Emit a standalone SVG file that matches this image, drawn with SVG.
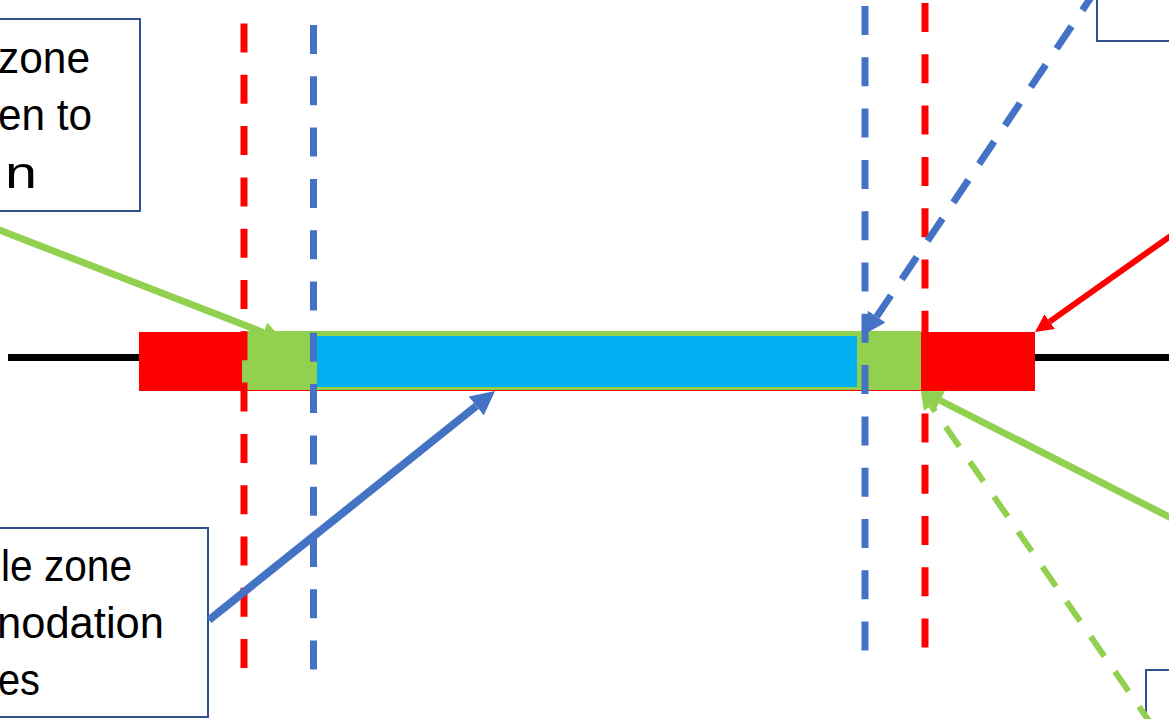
<svg xmlns="http://www.w3.org/2000/svg" width="1169" height="719" viewBox="0 0 1169 719">
<style>
.box{fill:#ffffff;stroke:#2F528F;stroke-width:2}
.lbl{font-family:"Liberation Sans",Arial,sans-serif;font-size:45px;fill:#000000}
.vd{fill:none;stroke-width:7;stroke-dasharray:29 22.3}
.red{stroke:#FF0000}
.blu{stroke:#4472C4}
.grn{stroke:#92D050}
.conn{fill:none}
</style>
<defs>
<marker id="ahG" viewBox="0 0 10 10" refX="0" refY="5" markerUnits="strokeWidth" markerWidth="3" markerHeight="3" orient="auto-start-reverse"><path d="M0,0 L10,5 L0,10 z" fill="#92D050"/></marker>
<marker id="ahB" viewBox="0 0 10 10" refX="0" refY="5" markerUnits="strokeWidth" markerWidth="3" markerHeight="3" orient="auto-start-reverse"><path d="M0,0 L10,5 L0,10 z" fill="#4472C4"/></marker>
<marker id="ahR" viewBox="0 0 10 10" refX="0" refY="5" markerUnits="strokeWidth" markerWidth="3" markerHeight="3" orient="auto-start-reverse"><path d="M0,0 L10,5 L0,10 z" fill="#FF0000"/></marker>
</defs>
<rect x="0" y="0" width="1169" height="719" fill="#ffffff"/>
<g id="baseline">
<line x1="8" y1="357.5" x2="1169" y2="357.5" stroke="#000000" stroke-width="7"/>
</g>
<g id="bar">
<rect x="139" y="332" width="896" height="59" fill="#FF0000"/>
<rect x="242" y="331" width="679" height="59" fill="#92D050"/>
<rect x="317" y="336" width="540" height="51" fill="#00B0F0"/>
</g>
<g id="guides">
<line class="vd red" x1="244" y1="23.5" x2="244" y2="668"/>
<line class="vd blu" x1="313.5" y1="25" x2="313.5" y2="670"/>
<line class="vd blu" x1="865" y1="6" x2="865" y2="651"/>
<line class="vd red" x1="925" y1="3" x2="925" y2="648"/>
</g>
<g id="box-top-left">
<rect class="box" x="-10" y="19" width="150" height="192"/>
<text class="lbl" x="-2" y="73" textLength="92" lengthAdjust="spacingAndGlyphs">zone</text>
<text class="lbl" x="-2" y="130" textLength="94" lengthAdjust="spacingAndGlyphs">en to</text>
<text class="lbl" x="5" y="188" textLength="32" lengthAdjust="spacingAndGlyphs">n</text>
</g>
<g id="box-bottom-left">
<rect class="box" x="-10" y="528" width="218" height="189"/>
<text class="lbl" x="1" y="581" textLength="131" lengthAdjust="spacingAndGlyphs">le zone</text>
<text class="lbl" x="-3" y="638" textLength="167" lengthAdjust="spacingAndGlyphs">nodation</text>
<text class="lbl" x="-2" y="695" textLength="42" lengthAdjust="spacingAndGlyphs">es</text>
</g>
<g id="box-top-right">
<rect class="box" x="1097" y="-10" width="90" height="51"/>
</g>
<g id="box-bottom-right">
<rect class="box" x="1146" y="670" width="40" height="60"/>
</g>
<g id="connectors" class="conn">
<path class="grn" stroke-width="7" d="M263.4,332.4 L-10,226.4" marker-start="url(#ahG)"/>
<path class="blu" stroke-width="8" d="M476.3,406 L209,620" marker-start="url(#ahB)"/>
<path class="red" stroke-width="6" d="M1049.7,321.6 L1175,232.8" marker-start="url(#ahR)"/>
<path class="grn" stroke-width="7" d="M940.2,400.5 L1175,519.9" marker-start="url(#ahG)"/>
<path class="grn" stroke-width="6" stroke-dasharray="24 18.5" stroke-dashoffset="17" d="M931.2,405.8 L1159.8,736.5" marker-start="url(#ahG)"/>
<path class="blu" stroke-width="7" stroke-dasharray="27 19.3" stroke-dashoffset="1.4" d="M876.7,316.6 L1099,-14.6" marker-start="url(#ahB)"/>
</g>
</svg>
